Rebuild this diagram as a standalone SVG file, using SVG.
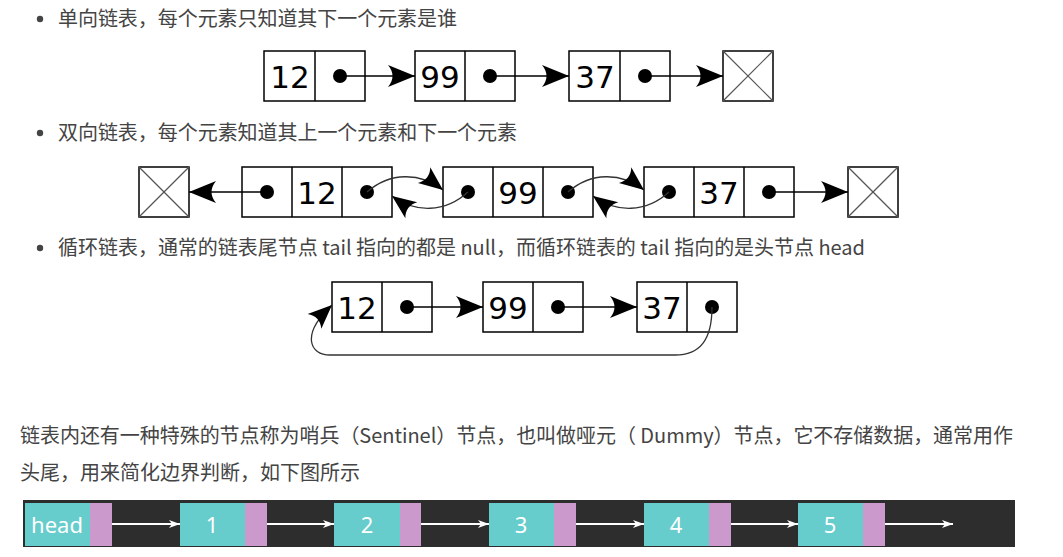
<svg xmlns="http://www.w3.org/2000/svg" width="1063" height="557" viewBox="0 0 1063 557">
<style>
.t{font-family:"Noto Sans CJK SC","Noto Sans",sans-serif;font-size:20px;fill:#444}
.box{fill:#fff;stroke:#000;stroke-width:1.5}
.div{stroke:#000;stroke-width:1.5}
.num{font-family:"DejaVu Sans",sans-serif;font-size:31px;fill:#000;text-anchor:middle}
.x{stroke:#555;stroke-width:1.2}
.ln{fill:none;stroke:#000;stroke-width:1.5}
.cv{fill:none;stroke:#333;stroke-width:1.3}
.teal{fill:#66cccc}
.pink{fill:#cc99cc}
.wt{font-family:"Noto Sans","Open Sans",sans-serif;font-size:22px;fill:#fff;text-anchor:middle}
.wl{fill:none;stroke:#fff;stroke-width:2}
</style>
<defs>
<marker id="ah" markerUnits="userSpaceOnUse" markerWidth="30" markerHeight="26" viewBox="-28 -13 30 26" refX="0" refY="0" orient="auto"><path d="M0,0 L-27,-11 C-21,-4 -21,4 -27,11 Z" fill="#000"/></marker>
<marker id="ah2" markerUnits="userSpaceOnUse" markerWidth="30" markerHeight="26" viewBox="-28 -13 30 26" refX="0" refY="0" orient="auto"><path d="M0,0 L-24,-10 C-19,-3.5 -19,3.5 -24,10 Z" fill="#000"/></marker>
<marker id="wa" markerUnits="userSpaceOnUse" markerWidth="14" markerHeight="10" viewBox="-12 -5 14 10" refX="0" refY="0" orient="auto"><path d="M0,0 L-11,-4 L-8,0 L-11,4 Z" fill="#fff"/></marker>
</defs>
<rect width="1063" height="557" fill="#fff"/>

<g id="texts">
<circle cx="40" cy="19" r="3.2" fill="#444"/>
<text class="t" x="58" y="26" textLength="399" lengthAdjust="spacing">单向链表，每个元素只知道其下一个元素是谁</text>
<circle cx="40" cy="133" r="3.2" fill="#444"/>
<text class="t" x="58" y="140" textLength="459" lengthAdjust="spacing">双向链表，每个元素知道其上一个元素和下一个元素</text>
<circle cx="40" cy="248" r="3.2" fill="#444"/>
<text class="t" x="58" y="255" textLength="807" lengthAdjust="spacing">循环链表，通常的链表尾节点 tail 指向的都是 null，而循环链表的 tail 指向的是头节点 head</text>
<text class="t" x="20" y="443" textLength="993" lengthAdjust="spacing">链表内还有一种特殊的节点称为哨兵（Sentinel）节点，也叫做哑元（ Dummy）节点，它不存储数据，通常用作</text>
<text class="t" x="20" y="480">头尾，用来简化边界判断，如下图所示</text>
</g>

<!-- Diagram 1: singly linked list -->
<g id="s-12"><rect class="box" x="264" y="51" width="101" height="50"/><line class="div" x1="315" y1="51" x2="315" y2="101"/><text class="num" x="290" y="88">12</text><circle cx="340" cy="76" r="7"/></g>
<g id="s-99"><rect class="box" x="415" y="51" width="100" height="50"/><line class="div" x1="465" y1="51" x2="465" y2="101"/><text class="num" x="440" y="88">99</text><circle cx="490" cy="76" r="7"/></g>
<g id="s-37"><rect class="box" x="569" y="51" width="101" height="50"/><line class="div" x1="620" y1="51" x2="620" y2="101"/><text class="num" x="595" y="88">37</text><circle cx="645" cy="76" r="7"/></g>
<g id="s-null"><rect class="box" x="723" y="51" width="50" height="50"/><line class="x" x1="723" y1="51" x2="773" y2="101"/><line class="x" x1="773" y1="51" x2="723" y2="101"/></g>

<!-- Diagram 2: doubly linked list -->
<g id="d-nullL"><rect class="box" x="139" y="167" width="50" height="50"/><line class="x" x1="139" y1="167" x2="189" y2="217"/><line class="x" x1="189" y1="167" x2="139" y2="217"/></g>
<g id="d-12"><rect class="box" x="242" y="167" width="150" height="50"/><line class="div" x1="292" y1="167" x2="292" y2="217"/><line class="div" x1="342" y1="167" x2="342" y2="217"/><circle cx="267" cy="192" r="7"/><text class="num" x="317" y="204">12</text><circle cx="367" cy="192" r="7"/></g>
<g id="d-99"><rect class="box" x="443" y="167" width="150" height="50"/><line class="div" x1="493" y1="167" x2="493" y2="217"/><line class="div" x1="543" y1="167" x2="543" y2="217"/><circle cx="468" cy="192" r="7"/><text class="num" x="518" y="204">99</text><circle cx="568" cy="192" r="7"/></g>
<g id="d-37"><rect class="box" x="644" y="167" width="150" height="50"/><line class="div" x1="694" y1="167" x2="694" y2="217"/><line class="div" x1="744" y1="167" x2="744" y2="217"/><circle cx="669" cy="192" r="7"/><text class="num" x="719" y="204">37</text><circle cx="769" cy="192" r="7"/></g>
<g id="d-nullR"><rect class="box" x="848" y="167" width="50" height="50"/><line class="x" x1="848" y1="167" x2="898" y2="217"/><line class="x" x1="898" y1="167" x2="848" y2="217"/></g>

<!-- Diagram 3: circular linked list -->
<g id="c-12"><rect class="box" x="332" y="282" width="100" height="50"/><line class="div" x1="382" y1="282" x2="382" y2="332"/><text class="num" x="357" y="319">12</text><circle cx="407" cy="307" r="7"/></g>
<g id="c-99"><rect class="box" x="483" y="282" width="100" height="50"/><line class="div" x1="533" y1="282" x2="533" y2="332"/><text class="num" x="508" y="319">99</text><circle cx="558" cy="307" r="7"/></g>
<g id="c-37"><rect class="box" x="637" y="282" width="100" height="50"/><line class="div" x1="687" y1="282" x2="687" y2="332"/><text class="num" x="662" y="319">37</text><circle cx="712" cy="307" r="7"/></g>

<!-- Sentinel bar -->
<rect x="23" y="500" width="992" height="47" fill="#2d2d2d"/>
<g id="b-head"><rect class="teal" x="25" y="503" width="65" height="43"/><rect class="pink" x="90" y="503" width="22" height="43"/><text class="wt" x="57" y="533">head</text></g>
<g id="b-1"><rect class="teal" x="180" y="503" width="65" height="43"/><rect class="pink" x="245" y="503" width="22" height="43"/><text class="wt" x="212" y="533">1</text></g>
<g id="b-2"><rect class="teal" x="334" y="503" width="66" height="43"/><rect class="pink" x="400" y="503" width="21" height="43"/><text class="wt" x="367" y="533">2</text></g>
<g id="b-3"><rect class="teal" x="489" y="503" width="65" height="43"/><rect class="pink" x="554" y="503" width="22" height="43"/><text class="wt" x="521" y="533">3</text></g>
<g id="b-4"><rect class="teal" x="644" y="503" width="65" height="43"/><rect class="pink" x="709" y="503" width="22" height="43"/><text class="wt" x="676" y="533">4</text></g>
<g id="b-5"><rect class="teal" x="798" y="503" width="65" height="43"/><rect class="pink" x="863" y="503" width="22" height="43"/><text class="wt" x="830" y="533">5</text></g>

<g id="connectors">
<path class="ln" d="M340,76 L415,76" marker-end="url(#ah)"/>
<path class="ln" d="M490,76 L569,76" marker-end="url(#ah)"/>
<path class="ln" d="M645,76 L723,76" marker-end="url(#ah)"/>

<path class="ln" d="M267,192 L189,192" marker-end="url(#ah)"/>
<path class="cv" d="M367,192 C390,172 420,172 443,190" marker-end="url(#ah2)"/>
<path class="cv" d="M468,192 C445,213 415,213 392,196" marker-end="url(#ah2)"/>
<path class="cv" d="M568,192 C591,172 621,172 644,190" marker-end="url(#ah2)"/>
<path class="cv" d="M669,192 C646,213 616,213 593,196" marker-end="url(#ah2)"/>
<path class="ln" d="M769,192 L848,192" marker-end="url(#ah)"/>

<path class="ln" d="M407,307 L483,307" marker-end="url(#ah)"/>
<path class="ln" d="M558,307 L637,307" marker-end="url(#ah)"/>
<path class="cv" d="M712,307 C712,340 700,355 675,355 L330,355 C310,355 300,335 332,305" marker-end="url(#ah2)"/>

<path class="wl" d="M112,524 L180,524" marker-end="url(#wa)"/>
<path class="wl" d="M267,524 L334,524" marker-end="url(#wa)"/>
<path class="wl" d="M421,524 L489,524" marker-end="url(#wa)"/>
<path class="wl" d="M576,524 L644,524" marker-end="url(#wa)"/>
<path class="wl" d="M731,524 L798,524" marker-end="url(#wa)"/>
<path class="wl" d="M885,524 L953,524" marker-end="url(#wa)"/>
</g>
</svg>
